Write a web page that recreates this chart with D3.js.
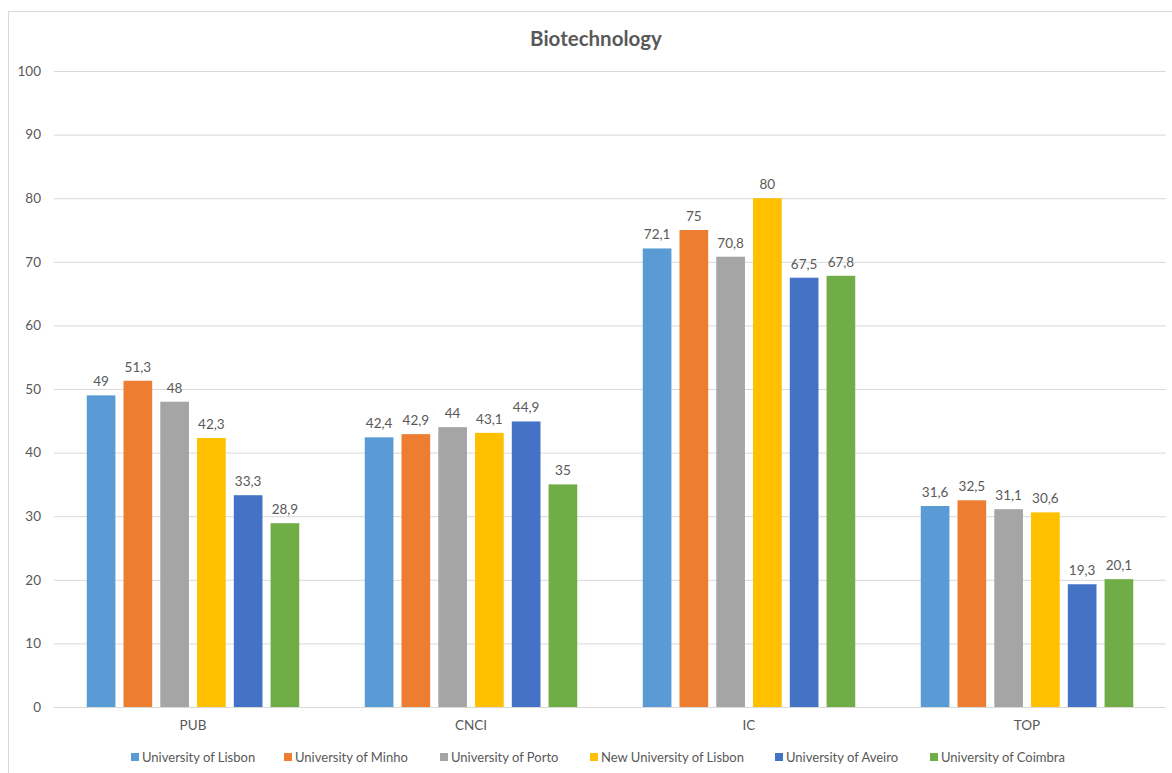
<!DOCTYPE html>
<html><head><meta charset="utf-8">
<script src="https://cdn.jsdelivr.net/npm/d3@7"></script>
<style>
html,body{margin:0;padding:0;background:#fff;}
text{font-family:Lato,"Open Sans",sans-serif;}
</style></head>
<body>
<svg id="chart" width="1172" height="773"></svg>
<script>
const categories = ["PUB", "CNCI", "IC", "TOP"];
const seriesNames = ["University of Lisbon", "University of Minho", "University of Porto", "New University of Lisbon", "University of Aveiro", "University of Coimbra"];
const lisbon   = [49, 42.4, 72.1, 31.6];
const minho    = [51.3, 42.9, 75, 32.5];
const porto    = [48, 44, 70.8, 31.1];
const newLisbon= [42.3, 43.1, 80, 30.6];
const aveiro   = [33.3, 44.9, 67.5, 19.3];
const coimbra  = [28.9, 35, 67.8, 20.1];
const yTicks = [0,10,20,30,40,50,60,70,80,90,100];
const colors = ["#5B9BD5","#ED7D31","#A5A5A5","#FFC000","#4472C4","#70AD47"];

const seriesValues = [lisbon, minho, porto, newLisbon, aveiro, coimbra];
const svg = d3.select("#chart");

// chart border
svg.append("rect").attr("x",8.5).attr("y",11.5).attr("width",1180).attr("height",780)
  .attr("fill","#fff").attr("stroke","#d9d9d9").attr("stroke-width",1);

const pLeft = 54, pRight = 1166, pTop = 71, pBottom = 707;
const x0 = d3.scaleBand().domain(categories).range([pLeft,pRight]).paddingInner(0).paddingOuter(0);
const x1 = d3.scaleBand().domain(d3.range(seriesNames.length)).range([0,212.5]).paddingInner(0.22).paddingOuter(0);
const y = d3.scaleLinear().domain([0,100]).range([pBottom,pTop]);

// gridlines
const yAxis = d3.axisLeft(y).tickValues(yTicks).tickSize(-(pRight-pLeft)).tickPadding(13);
const ga = svg.append("g").attr("transform",`translate(${pLeft},0)`).call(yAxis);
ga.select(".domain").remove();
ga.selectAll(".tick line").attr("stroke","#d9d9d9").attr("stroke-width",1);
ga.selectAll(".tick text").attr("fill","#595959").style("font-size","13.5px").style("font-family","Lato,sans-serif");

// bars
const groupOffset = (x0.bandwidth()-212.5)/2;
const groups = svg.append("g").selectAll("g").data(categories).join("g")
  .attr("transform",d=>`translate(${x0(d)+groupOffset},0)`);
groups.each(function(cat,ci){
  const g = d3.select(this);
  seriesValues.forEach((vals,si)=>{
    g.append("rect").attr("x",x1(si)).attr("y",y(vals[ci])).attr("width",x1.bandwidth())
      .attr("height",y(0)-y(vals[ci])).attr("fill",colors[si]);
    g.append("text").attr("x",x1(si)+x1.bandwidth()/2).attr("y",y(vals[ci])-9)
      .attr("text-anchor","middle").attr("fill","#595959").style("font-size","13.5px")
      .text(String(vals[ci]).replace(".",","));
  });
});

// x axis line
svg.append("line").attr("x1",pLeft).attr("x2",pRight).attr("y1",y(0)+0.5).attr("y2",y(0)+0.5).attr("stroke","#d9d9d9");

// category labels
svg.append("g").selectAll("text").data(categories).join("text")
  .attr("x",d=>x0(d)+x0.bandwidth()/2).attr("y",730).attr("text-anchor","middle")
  .attr("fill","#595959").style("font-size","13.5px").text(d=>d);

// title
svg.append("text").attr("x",596).attr("y",46).attr("text-anchor","middle")
  .attr("fill","#595959").style("font-size","20.5px").style("font-weight","bold").text("Biotechnology");

// legend
const legendStarts = [131,284,440,590,775,930];
const lg = svg.append("g");
seriesNames.forEach((n,i)=>{
  lg.append("rect").attr("x",legendStarts[i]).attr("y",753).attr("width",8).attr("height",8).attr("fill",colors[i]);
  lg.append("text").attr("x",legendStarts[i]+11).attr("y",762).attr("fill","#595959").style("font-size","13px").text(n);
});
</script>
</body></html>
